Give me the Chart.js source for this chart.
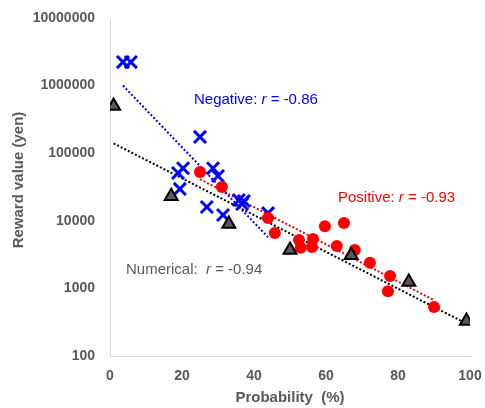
<!DOCTYPE html>
<html><head><meta charset="utf-8">
<script src="https://cdn.jsdelivr.net/npm/chart.js@4/dist/chart.umd.min.js"></script>
<style>html,body{margin:0;padding:0;background:#fff}#wrap{width:485px;height:408px}</style>
</head><body><div id="wrap"><canvas id="c" width="485" height="408"></canvas></div>
<script>
const yTicks = [100, 1000, 10000, 100000, 1000000, 10000000];
const xTicks = [0, 20, 40, 60, 80, 100];
const numericalX = [1, 17, 33, 50, 67, 83, 99];
const numericalY = [500000, 23000, 9000, 3700, 3100, 1240, 330];
const negativeX = [3.6, 5.8, 25, 20.3, 18.9, 19.4, 28.6, 30, 26.9, 31.4, 35.8, 37.2, 36.7, 43.9];
const negativeY = [2230000, 2230000, 174000, 60000, 51000, 29600, 60000, 46000, 16000, 12200, 20300, 19600, 17700, 13000];
const positiveX = [25, 31.1, 43.9, 45.8, 59.7, 65, 52.5, 56.4, 53, 56.1, 63, 68, 72.2, 77.8, 77.2, 90];
const positiveY = [52700, 31600, 11000, 6600, 8300, 9300, 5200, 5400, 4000, 4100, 4250, 3700, 2400, 1520, 910, 530];

const FONT = '"Liberation Sans", Arial, sans-serif';
const pts = (xs, ys) => xs.map((x, i) => ({x: x, y: ys[i]}));
function trend(xs, ys) {
  const n = xs.length;
  const ly = ys.map(v => Math.log10(v));
  const mx = xs.reduce((a, b) => a + b, 0) / n;
  const my = ly.reduce((a, b) => a + b, 0) / n;
  let sxy = 0, sxx = 0;
  for (let i = 0; i < n; i++) { sxy += (xs[i] - mx) * (ly[i] - my); sxx += (xs[i] - mx) ** 2; }
  const b = sxy / sxx, a = my - b * mx;
  const x0 = Math.min(...xs), x1 = Math.max(...xs);
  return [{x: x0, y: Math.pow(10, a + b * x0)}, {x: x1, y: Math.pow(10, a + b * x1)}];
}

const trendStyle = (c) => ({type: 'line', borderColor: c, borderWidth: 2, borderDash: [2, 2],
  pointRadius: 0, fill: false, showLine: true, order: 10});

const textPlugin = {
  id: 'texts',
  afterDraw(chart) {
    const ctx = chart.ctx;
    const xs = chart.scales.x;
    ctx.save();
    ctx.textBaseline = 'middle';
    function rich(parts, x, y, color) {
      ctx.fillStyle = color;
      ctx.textAlign = 'left';
      let cx = x;
      for (const [t, it] of parts) {
        ctx.font = (it ? 'italic ' : '') + '15px ' + FONT;
        ctx.fillText(t, cx, y);
        cx += ctx.measureText(t).width;
      }
    }
    rich([['Negative: ', false], ['r', true], [' = -0.86', false]], 194, 100, '#0000ff');
    rich([['Positive: ', false], ['r', true], [' = -0.93', false]], 338, 198, '#ff0000');
    rich([['Numerical:  ', false], ['r', true], [' = -0.94', false]], 126, 270, '#595959');
    ctx.fillStyle = '#595959';
    ctx.font = 'bold 15px ' + FONT;
    ctx.textAlign = 'center';
    ctx.fillText('Probability  (%)', (xs.left + xs.right) / 2, 398);
    ctx.save();
    ctx.translate(19, 180);
    ctx.rotate(-Math.PI / 2);
    ctx.font = 'bold 15px ' + FONT;
    ctx.fillText('Reward value (yen)', 0, 0);
    ctx.restore();
    ctx.restore();
  }
};

new Chart(document.getElementById('c'), {
  type: 'scatter',
  data: {
    datasets: [
      {label: 'Negative', data: pts(negativeX, negativeY), pointStyle: 'crossRot', pointRadius: 8.5,
        borderColor: '#0000ff', backgroundColor: '#0000ff', borderWidth: 3, order: 3},
      {label: 'Positive', data: pts(positiveX, positiveY), pointStyle: 'circle', pointRadius: 6,
        borderWidth: 0, backgroundColor: '#ff0000', borderColor: '#ff0000', order: 2},
      {label: 'Numerical', data: pts(numericalX, numericalY), pointStyle: 'triangle', pointRadius: 7.5,
        borderWidth: 2, backgroundColor: '#595959', borderColor: '#000000', order: 1},
      Object.assign({label: 'NegTrend', data: trend(negativeX, negativeY)}, trendStyle('#0000ff')),
      Object.assign({label: 'PosTrend', data: trend(positiveX, positiveY)}, trendStyle('#ff0000')),
      Object.assign({label: 'NumTrend', data: trend(numericalX, numericalY)}, trendStyle('#000000'))
    ]
  },
  options: {
    responsive: false, animation: false, devicePixelRatio: 1,
    layout: {padding: {top: 18, right: 15, left: 0, bottom: 0}},
    plugins: {legend: {display: false}, tooltip: {enabled: false}},
    scales: {
      x: {
        type: 'linear', min: 0, max: 100,
        afterBuildTicks: s => { s.ticks = xTicks.map(v => ({value: v})); },
        afterFit: s => { s.height = 52; s.paddingLeft = 0; s.paddingRight = 0; },
        grid: {display: true, drawOnChartArea: false, drawTicks: false},
        border: {display: true, color: '#d9d9d9', width: 1},
        ticks: {padding: 12, color: '#595959', font: {family: FONT, size: 14, weight: 'bold'}, callback: v => String(v)}
      },
      y: {
        type: 'logarithmic', min: 100, max: 10000000,
        afterBuildTicks: s => { s.ticks = yTicks.map(v => ({value: v})); },
        afterFit: s => { s.width = 110; s.paddingTop = 0; s.paddingBottom = 0; },
        grid: {display: true, drawOnChartArea: false, drawTicks: false},
        border: {display: true, color: '#d9d9d9', width: 1},
        ticks: {padding: 15, color: '#595959', font: {family: FONT, size: 14, weight: 'bold'}, callback: v => String(v)}
      }
    }
  },
  plugins: [textPlugin]
});
</script>
</body></html>
